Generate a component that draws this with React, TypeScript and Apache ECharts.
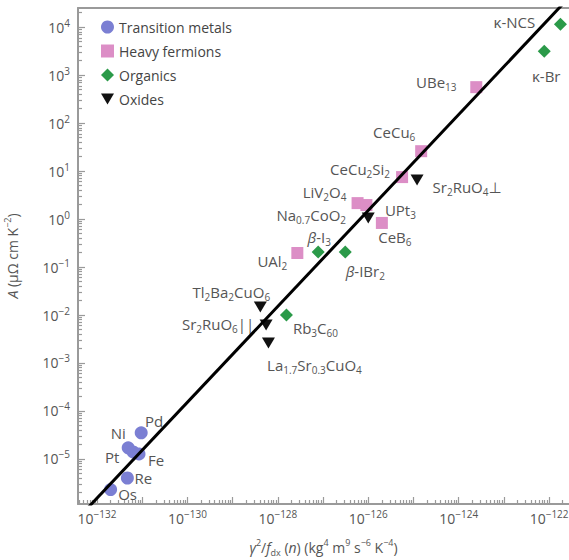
import React, { useEffect, useRef } from "react";
import * as echarts from "echarts";

// ---- data (x = γ²/f_dx(n) in kg⁴ m⁹ s⁻⁶ K⁻⁴, A in μΩ cm K⁻²) ----
const transitionNames = ["Pd", "Ni", "Pt", "Fe", "Re", "Os"];
const transitionX = [9.5e-132, 4.9e-132, 6.3e-132, 8.5e-132, 4.7e-132, 2.0e-132];
const transitionA = [3.5e-5, 1.7e-5, 1.4e-5, 1.27e-5, 4.0e-6, 2.3e-6];

const heavyNames = ["CeCu_{6}", "CeCu_{2}Si_{2}", "LiV_{2}O_{4}", "UPt_{3}", "CeB_{6}", "UAl_{2}", "UBe_{13}"];
const heavyX = [1.48e-125, 5.6e-126, 5.8e-127, 9.1e-127, 2.0e-126, 2.7e-128, 2.45e-124];
const heavyA = [26, 7.5, 2.15, 1.96, 0.83, 0.196, 562];

const organicNames = ["~{β}-I_{3}", "~{β}-IBr_{2}", "Rb_{3}C_{60}", "κ-NCS", "κ-Br"];
const organicX = [7.8e-128, 3.1e-127, 1.55e-128, 1.78e-122, 7.8e-123];
const organicA = [0.205, 0.205, 0.01, 11500, 3160];

const oxideNames = ["Na_{0.7}CoO_{2}", "Sr_{2}RuO_{4}⊥", "Tl_{2}Ba_{2}CuO_{6}", "Sr_{2}RuO_{6}||", "La_{1.7}Sr_{0.3}CuO_{4}"];
const oxideX = [1.0e-126, 1.2e-125, 4.1e-129, 5.5e-129, 6.2e-129];
const oxideA = [1.05, 6.5, 0.0147, 0.0062, 0.0026];

// Kadowaki–Woods-type fit line endpoints
const fitX = [5e-133, 2.5e-122];
const fitA = [7.6e-7, 37750];

const xTickLabels = [-132, -130, -128, -126, -124, -122];
const yTickLabels = [-5, -4, -3, -2, -1, 0, 1, 2, 3, 4];

// ---- label placement (pixel offsets from marker centre) ----
const labelOffsets: Record<string, [number, number]> = {
  Pd: [13, -12], Ni: [-10, -15], Pt: [-21, 5], Fe: [17, 6], Re: [16, 0], Os: [17, 4],
  "CeCu_{6}": [-27, -19], "CeCu_{2}Si_{2}": [-42, -8], "LiV_{2}O_{4}": [-33, -11],
  "UPt_{3}": [34, 5], "CeB_{6}": [13, 14], "UAl_{2}": [-25, 8], "UBe_{13}": [-40, -5],
  "~{β}-I_{3}": [1, -15], "~{β}-IBr_{2}": [20, 19], "Rb_{3}C_{60}": [29, 13],
  "κ-NCS": [-46, -2], "κ-Br": [2, 25],
  "Na_{0.7}CoO_{2}": [-57, -3], "Sr_{2}RuO_{4}⊥": [50, 7], "Tl_{2}Ba_{2}CuO_{6}": [-29, -15],
  "Sr_{2}RuO_{6}||": [-48, -1], "La_{1.7}Sr_{0.3}CuO_{4}": [46, 22],
};

const FONT = "'Open Sans', 'DejaVu Sans', sans-serif";
const TXT = "#555555";
const AXIS = "#9a9a9a";

function rich(s: string): string {
  let out = "";
  let buf = "";
  let i = 0;
  const flush = () => {
    if (buf) { out += `{n|${buf}}`; buf = ""; }
  };
  while (i < s.length) {
    const c = s[i];
    if ((c === "_" || c === "^" || c === "~") && s[i + 1] === "{") {
      const end = s.indexOf("}", i + 2);
      flush();
      const st = c === "_" ? "s" : c === "^" ? "p" : "i";
      out += `{${st}|${s.slice(i + 2, end)}}`;
      i = end + 1;
    } else {
      buf += c;
      i++;
    }
  }
  flush();
  return out;
}

function richStyles(size: number, sub: number) {
  return {
    n: { fontSize: size, fontFamily: FONT, color: TXT, lineHeight: size + 5 },
    i: { fontSize: size, fontFamily: FONT, color: TXT, fontStyle: "italic", lineHeight: size + 5 },
    s: { fontSize: sub, fontFamily: FONT, color: TXT, lineHeight: sub, verticalAlign: "bottom" },
    p: { fontSize: sub, fontFamily: FONT, color: TXT, lineHeight: sub, verticalAlign: "top" },
  };
}

const X_MIN = -132.42, X_MAX = -121.56;
const Y_MIN = -5.94, Y_MAX = 4.4;

function minorTicks(lo: number, hi: number): number[] {
  const out: number[] = [];
  for (let n = Math.floor(lo) - 1; n <= Math.ceil(hi); n++) {
    for (let k = 2; k <= 9; k++) {
      const v = n + Math.log10(k);
      if (v > lo && v < hi) out.push(v);
    }
  }
  return out;
}
function majorTicks(lo: number, hi: number): number[] {
  const out: number[] = [];
  for (let n = Math.ceil(lo); n <= Math.floor(hi); n++) out.push(n);
  return out;
}

function points(names: string[], xs: number[], ys: number[]) {
  return names.map((name, idx) => ({
    name,
    value: [Math.log10(xs[idx]), Math.log10(ys[idx])],
    label: { offset: labelOffsets[name] || [0, 0] },
  }));
}

export default function App() {
  const ref = useRef<HTMLDivElement>(null);
  useEffect(() => {
    if (!ref.current) return;
    const chart = echarts.init(ref.current, undefined, { renderer: "svg" });
    const labelRich = richStyles(15, 10);
    const tickRich = richStyles(14, 10);
    const expLabel = (v: number) => `{n|10}{p|${String(Math.round(v)).replace("-", "−")}}`;

    const scatterLabel = {
      show: true,
      position: "inside",
      color: TXT,
      textBorderWidth: 0,
      formatter: (p: any) => rich(p.name),
      rich: labelRich,
    };

    const line = { show: true, onZero: false, lineStyle: { color: AXIS, width: 2 } };
    const noLine = { show: false, onZero: false };

    const option: any = {
      animation: false,
      backgroundColor: "#fff",
      grid: { left: 78, right: 0, top: 8, bottom: 56, containLabel: false, outerBoundsMode: "none" },
      legend: {
        orient: "vertical",
        left: 101,
        top: 20,
        padding: 0,
        itemWidth: 13,
        itemHeight: 13,
        itemGap: 10,
        selectedMode: false,
        textStyle: { fontSize: 14, fontFamily: FONT, color: "#444", lineHeight: 14 },
        data: ["Transition metals", "Heavy fermions", "Organics", "Oxides"],
      },
      xAxis: [
        {
          type: "value", min: X_MIN, max: X_MAX, position: "bottom",
          axisLine: line,
          axisTick: { show: true, inside: true, length: 7, lineStyle: { color: AXIS, width: 1.2 }, customValues: majorTicks(X_MIN, X_MAX) },
          axisLabel: { show: true, margin: 5, customValues: xTickLabels, formatter: expLabel, rich: tickRich },
          splitLine: { show: false },
          name: rich("~{γ}^{2}/~{f}_{dx} (~{n}) (kg^{4} m^{9} s^{−6} K^{−4})"),
          nameLocation: "middle",
          nameGap: 34,
          nameTextStyle: { rich: richStyles(14, 9) },
        },
        {
          type: "value", min: X_MIN, max: X_MAX, position: "bottom",
          axisLine: noLine,
          axisTick: { show: true, inside: true, length: 4, lineStyle: { color: AXIS, width: 1.2 }, customValues: minorTicks(X_MIN, X_MAX) },
          axisLabel: { show: false },
          splitLine: { show: false },
        },
        {
          type: "value", min: X_MIN, max: X_MAX, position: "top",
          axisLine: line,
          axisTick: { show: false },
          axisLabel: { show: false },
          splitLine: { show: false },
        },
      ],
      yAxis: [
        {
          type: "value", min: Y_MIN, max: Y_MAX, position: "left",
          axisLine: line,
          axisTick: { show: true, inside: true, length: 7, lineStyle: { color: AXIS, width: 1.2 }, customValues: majorTicks(Y_MIN, Y_MAX) },
          axisLabel: { show: true, margin: 8, customValues: yTickLabels, formatter: expLabel, rich: tickRich },
          splitLine: { show: false },
          name: rich("~{A} (μΩ cm K^{−2})"),
          nameLocation: "middle",
          nameGap: 56,
          nameTextStyle: { rich: richStyles(14, 9) },
        },
        {
          type: "value", min: Y_MIN, max: Y_MAX, position: "left",
          axisLine: noLine,
          axisTick: { show: true, inside: true, length: 4, lineStyle: { color: AXIS, width: 1.2 }, customValues: minorTicks(Y_MIN, Y_MAX) },
          axisLabel: { show: false },
          splitLine: { show: false },
        },
      ],
      series: [
        {
          type: "line",
          name: "fit",
          data: fitX.map((x, i) => [Math.log10(x), Math.log10(fitA[i])]),
          showSymbol: false,
          symbol: "none",
          lineStyle: { color: "#000", width: 3 },
          silent: true,
          clip: true,
        },
        {
          type: "scatter", name: "Transition metals", symbol: "circle", symbolSize: 13,
          itemStyle: { color: "#7b7fd3", opacity: 1 },
          data: points(transitionNames, transitionX, transitionA),
          label: scatterLabel,
        },
        {
          type: "scatter", name: "Heavy fermions", symbol: "rect", symbolSize: 12,
          itemStyle: { color: "#dc8ec6", opacity: 1 },
          data: points(heavyNames, heavyX, heavyA),
          label: scatterLabel,
        },
        {
          type: "scatter", name: "Organics", symbol: "diamond", symbolSize: 13,
          itemStyle: { color: "#2b9a49", opacity: 1 },
          data: points(organicNames, organicX, organicA),
          label: scatterLabel,
        },
        {
          type: "scatter", name: "Oxides", symbol: "path://M0,0L20,0L10,17Z", symbolSize: [13, 11],
          itemStyle: { color: "#111", opacity: 1 },
          data: points(oxideNames, oxideX, oxideA),
          label: scatterLabel,
        },
      ],
    };
    chart.setOption(option);
    return () => chart.dispose();
  }, []);
  return (
    <div
      ref={ref}
      style={{ position: "absolute", left: 0, top: 0, width: 569, height: 560, background: "#fff" }}
    />
  );
}
